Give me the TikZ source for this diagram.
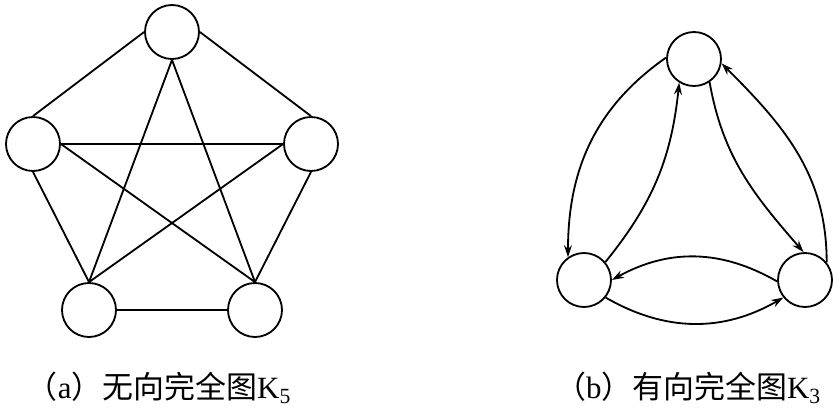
\documentclass[tikz,border=0pt]{standalone}
\usepackage{fontspec}
\setmainfont{Liberation Serif}
\newfontfamily\cjk{Noto Sans CJK SC}
\usetikzlibrary{arrows.meta}

\begin{document}
\begin{tikzpicture}[
  vertex/.style={draw, circle, minimum size=1.35cm, inner sep=0pt, line width=1.3pt},
  edge/.style={line width=1.3pt},
  arrow/.style={-{Stealth[length=3mm, width=2mm]}, line width=1.3pt},
  caption/.style={font=\fontsize{22}{26}\selectfont, inner sep=0pt}
]
  \useasboundingbox (0,0) rectangle (20.975,-10.275);

  % (a) undirected K5
  \node (k1) [vertex] at (4.3,-0.8) {};
  \node (k2) [vertex] at (0.825,-3.6) {};
  \node (k3) [vertex] at (7.775,-3.6) {};
  \node (k4) [vertex] at (2.225,-7.75) {};
  \node (k5) [vertex] at (6.375,-7.75) {};

  \foreach \a/\b in {k1.west/k2.north, k1.east/k3.north, k1.south/k4.north,
                     k1.south/k5.north, k2.east/k3.west, k2.east/k5.north,
                     k2.south/k4.north, k3.west/k4.north, k3.south/k5.north,
                     k4.east/k5.west}
    \draw[edge] (\a) -- (\b);

  % (b) directed K3
  \node (d1) [vertex] at (17.35,-1.475) {};
  \node (d2) [vertex] at (14.6,-7.0) {};
  \node (d3) [vertex] at (20.125,-7.0) {};

  \draw[arrow] (d1.177) to[out=215, in=90] (d2.125);
  \draw[arrow] (d2.40) to[out=51, in=264] (d1.238);
  \draw[arrow] (d1.304) to[out=280, in=131] (d3.93);
  \draw[arrow] (d3.183) to[out=150, in=29] (d2.0);
  \draw[arrow] (d2.321) to[out=330, in=210] (d3.219);
  \draw[arrow] (d3.39) to[out=90, in=315] (d1.351);

  \node (capa) [caption] at (3.975,-9.7) {{\cjk （}a{\cjk ）无向完全图}K\textsubscript{5}};
  \node (capb) [caption] at (17.2,-9.7) {{\cjk （}b{\cjk ）有向完全图}K\textsubscript{3}};
\end{tikzpicture}
\end{document}
